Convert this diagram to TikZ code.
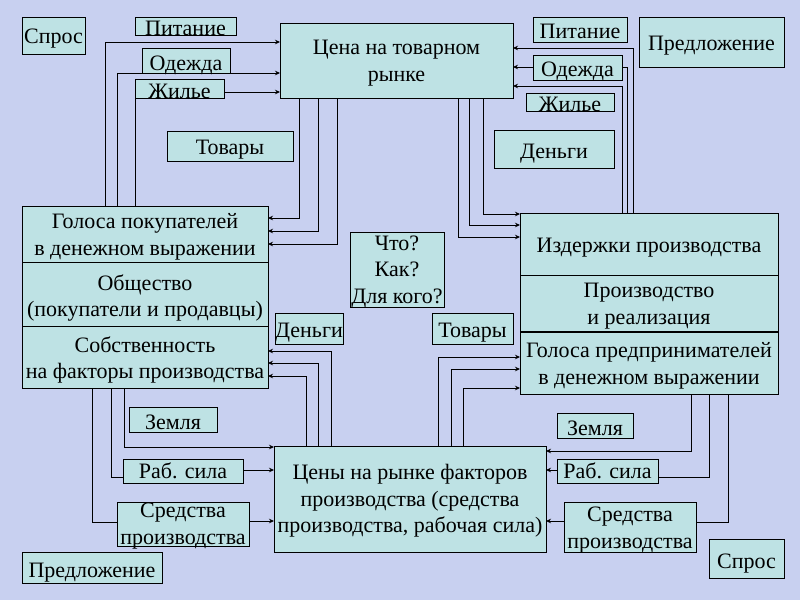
\documentclass[tikz,border=0pt]{standalone}
\usepackage{fontspec}
\setmainfont{Liberation Serif}
\usetikzlibrary{arrows.meta}
\definecolor{bgc}{RGB}{200,208,240}
\definecolor{boxc}{RGB}{190,226,228}
\newcommand\Bx[5]{\node[box, minimum width={#4-#2}, minimum height={#5-#3}] (#1) at ({(#2+#4)/2},{(#3+#5)/2}) {};}
\begin{document}
\begin{tikzpicture}[x=1pt,y=-1pt,
  box/.style={draw=black, line width=1pt, fill=boxc, inner sep=0pt, outer sep=0pt},
  lbl/.style={inner sep=0pt, align=center, font=\fontsize{22}{26.5}\selectfont},
  conn/.style={line width=0.8pt},
  arr/.style={conn, -{Stealth[length=5pt,width=4.5pt]}}]
\fill[bgc] (0,0) rectangle (800,600);
\useasboundingbox (0,0) rectangle (800,600);
% boxes
\Bx{sprosA}{22}{17}{85}{54}
\Bx{pitA}{135}{17}{236}{35}
\Bx{odA}{142}{48}{230}{73}
\Bx{zhA}{135}{79}{224}{98}
\Bx{tovA}{167}{131}{293}{161}
\Bx{cena}{280}{23}{513}{98}
\Bx{predA}{639}{17}{784}{67}
\Bx{pitB}{533}{17}{627}{42}
\Bx{odB}{533}{55}{622}{80}
\Bx{zhB}{526}{93}{614}{111}
\Bx{denB}{494}{130}{614}{168}
\Bx{golosa}{22}{206}{268}{262}
\Bx{obsh}{22}{262}{268}{326}
\Bx{sobst}{22}{326}{268}{388}
\Bx{chto}{350}{232}{444}{307}
\Bx{izd}{520}{213}{778}{275}
\Bx{proizv}{520}{275}{778}{332}
\Bx{golpred}{520}{332}{778}{394}
\Bx{denM}{275}{313}{343}{344}
\Bx{tovM}{432}{313}{513}{344}
\Bx{zemA}{129}{407}{217}{432}
\Bx{rabA}{123}{459}{243}{483}
\Bx{sredA}{117}{502}{249}{546}
\Bx{ceny}{274}{446}{546}{552}
\Bx{predB}{22}{552}{162}{583}
\Bx{zemB}{557}{413}{633}{438}
\Bx{rabB}{557}{459}{658}{483}
\Bx{sredB}{564}{502}{696}{552}
\Bx{sprosB}{709}{539}{784}{578}
\draw[line width=2pt] (proizv.south west) -- (proizv.south east);
% labels
\node[lbl, anchor=base] (l-sprosA) at (53.5,43) {Спрос};
\node[lbl, anchor=base] (l-pitA) at (185.5,35) {Питание};
\node[lbl, anchor=base] (l-odA) at (186,70) {Одежда};
\node[lbl, anchor=base] (l-zhA) at (179.5,98) {Жилье};
\node[lbl, anchor=base] (l-tovA) at (230,154) {Товары};
\node[lbl] (l-cena) at (396.5,63) {Цена на товарном\\рынке};
\node[lbl, anchor=base] (l-predA) at (711.5,50) {Предложение};
\node[lbl, anchor=base] (l-pitB) at (580,38) {Питание};
\node[lbl, anchor=base] (l-odB) at (577.5,76) {Одежда};
\node[lbl, anchor=base] (l-zhB) at (570,111) {Жилье};
\node[lbl, anchor=base] (l-denB) at (554,158) {Деньги};
\node[lbl] (l-golosa) at (145,237) {Голоса покупателей\\в денежном выражении};
\node[lbl] (l-obsh) at (145,298) {Общество\\(покупатели и продавцы)};
\node[lbl] (l-sobst) at (145,360) {Собственность\\на факторы производства};
\node[lbl] (l-chto) at (397,272) {Что?\\Как?\\Для кого?};
\node[lbl, anchor=base] (l-izd) at (649,252) {Издержки производства};
\node[lbl] (l-proizv) at (649,306) {Производство\\и реализация};
\node[lbl] (l-golpred) at (649,366) {Голоса предпринимателей\\в денежном выражении};
\node[lbl, anchor=base] (l-denM) at (309,337) {Деньги};
\node[lbl, anchor=base] (l-tovM) at (472.5,337) {Товары};
\node[lbl, anchor=base] (l-zemA) at (173,429) {Земля};
\node[lbl, anchor=base] (l-rabA) at (183,478) {Раб. сила};
\node[lbl] (l-sredA) at (183,526) {Средства\\производства};
\node[lbl] (l-ceny) at (410,501) {Цены на рынке факторов\\производства (средства\\производства, рабочая сила)};
\node[lbl, anchor=base] (l-predB) at (92,577) {Предложение};
\node[lbl, anchor=base] (l-zemB) at (595,435) {Земля};
\node[lbl, anchor=base] (l-rabB) at (607.5,478) {Раб. сила};
\node[lbl] (l-sredB) at (630,530) {Средства\\производства};
\node[lbl, anchor=base] (l-sprosB) at (746.5,568) {Спрос};
% connectors top-left
\draw[arr] (golosa.north -| 105,0) |- (cena.west |- 0,42);
\draw[arr] (golosa.north -| 117,0) |- (cena.west |- 0,73);
\draw[conn] (golosa.north -| 135,0) -- (zhA.south west);
\draw[arr] (zhA.east |- 0,92) -- (cena.west |- 0,92);
% top-right
\draw[arr] (izd.north -| 633,0) |- (cena.east |- 0,48);
\draw[conn] (izd.north -| 627,0) |- (odB.east |- 0,67);
\draw[arr] (odB.west |- 0,67) -- (cena.east |- 0,67);
\draw[arr] (izd.north -| 622,0) |- (cena.east |- 0,86);
% middle top
\draw[arr] (cena.south -| 299,0) |- (golosa.east |- 0,218);
\draw[arr] (cena.south -| 318,0) |- (golosa.east |- 0,231);
\draw[arr] (cena.south -| 337,0) |- (golosa.east |- 0,244);
\draw[arr] (cena.south -| 483,0) |- (izd.west |- 0,214);
\draw[arr] (cena.south -| 469,0) |- (izd.west |- 0,225);
\draw[arr] (cena.south -| 458,0) |- (izd.west |- 0,237);
% middle bottom
\draw[arr] (ceny.north -| 331,0) |- (sobst.east |- 0,351);
\draw[arr] (ceny.north -| 318,0) |- (sobst.east |- 0,363);
\draw[arr] (ceny.north -| 306,0) |- (sobst.east |- 0,376);
\draw[arr] (ceny.north -| 438,0) |- (golpred.west |- 0,357);
\draw[arr] (ceny.north -| 451,0) |- (golpred.west |- 0,369);
\draw[arr] (ceny.north -| 463,0) |- (golpred.west |- 0,388);
% bottom-left
\draw[arr] (sobst.south -| 124,0) |- (ceny.west |- 0,447);
\draw[conn] (sobst.south -| 111,0) |- (rabA.west |- 0,477);
\draw[arr] (rabA.east |- 0,470) -- (ceny.west |- 0,470);
\draw[conn] (sobst.south -| 92,0) |- (sredA.west |- 0,522);
\draw[arr] (sredA.east |- 0,521) -- (ceny.west |- 0,521);
% bottom-right
\draw[arr] (golpred.south -| 691,0) |- (ceny.east |- 0,451);
\draw[conn] (golpred.south -| 709,0) |- (rabB.east |- 0,477);
\draw[arr] (rabB.west |- 0,470) -- (ceny.east |- 0,470);
\draw[conn] (golpred.south -| 728,0) |- (sredB.east |- 0,522);
\draw[arr] (sredB.west |- 0,521) -- (ceny.east |- 0,521);
\end{tikzpicture}
\end{document}
